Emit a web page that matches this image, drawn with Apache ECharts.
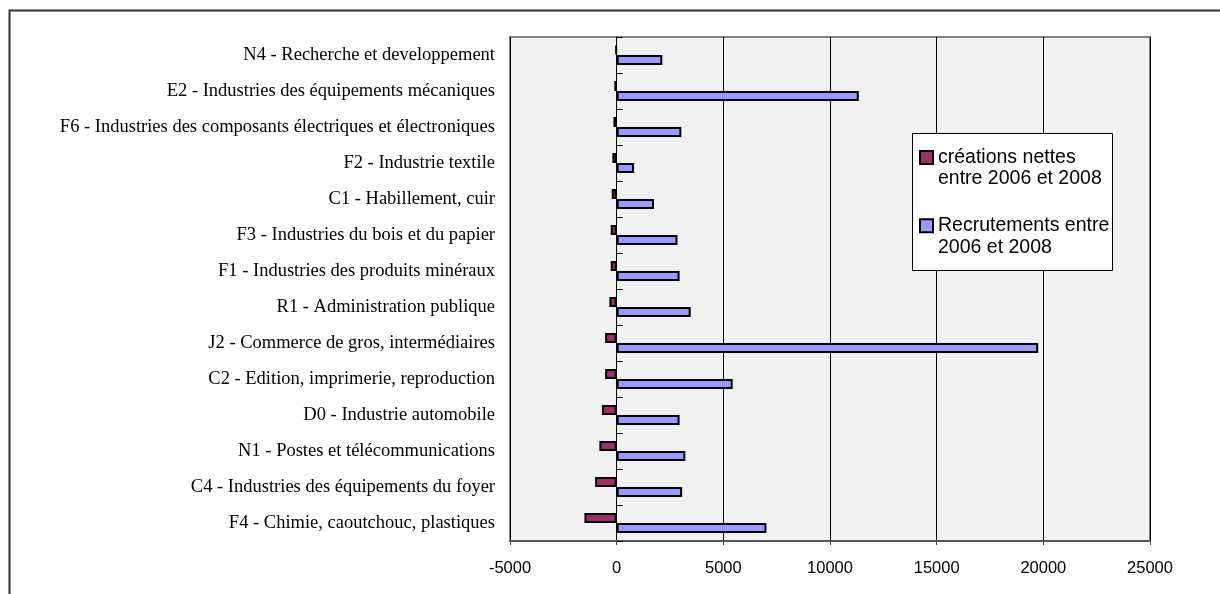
<!DOCTYPE html>
<html>
<head>
<meta charset="utf-8">
<script src="https://cdn.jsdelivr.net/npm/echarts@6/dist/echarts.min.js"></script>
<style>
html,body{margin:0;padding:0;background:#fff;}
#chart{width:1220px;height:594px;}
</style>
</head>
<body>
<div id="chart"></div>
<script>
// Categories, top to bottom
const categories = [
  "N4 - Recherche et developpement",
  "E2 - Industries des équipements mécaniques",
  "F6 - Industries des composants électriques et électroniques",
  "F2 - Industrie textile",
  "C1 - Habillement, cuir",
  "F3 - Industries du bois et du papier",
  "F1 - Industries des produits minéraux",
  "R1 - Administration publique",
  "J2 - Commerce de gros, intermédiaires",
  "C2 - Edition, imprimerie, reproduction",
  "D0 - Industrie automobile",
  "N1 - Postes et télécommunications",
  "C4 - Industries des équipements du foyer",
  "F4 - Chimie, caoutchouc, plastiques"
];
const seriesNames = [
  "créations nettes entre 2006 et 2008",
  "Recrutements entre 2006 et 2008"
];
const legendLabels = [
  "créations nettes\nentre 2006 et 2008",
  "Recrutements entre\n2006 et 2008"
];
const creationsNettes = [-50, -110, -150, -200, -230, -280, -280, -340, -540, -540, -690, -810, -1010, -1510];
const recrutements = [2140, 11350, 3030, 815, 1750, 2850, 2950, 3470, 19760, 5440, 2950, 3220, 3070, 7020];
const xTicks = [-5000, 0, 5000, 10000, 15000, 20000, 25000];

const chart = echarts.init(document.getElementById('chart'), null, {renderer: 'canvas'});
const legendMap = {};
seriesNames.forEach((n, i) => legendMap[n] = legendLabels[i]);

const option = {
  backgroundColor: '#ffffff',
  animation: false,
  grid: {
    left: 510, right: 70, top: 37, bottom: 53,
    show: true,
    backgroundColor: '#f2f2f2',
    borderColor: '#808080',
    borderWidth: 2
  },
  graphic: [
    {
      type: 'rect', z: 100, silent: true,
      shape: {x: 9.5, y: 10.5, width: 1400, height: 800},
      style: {fill: 'none', stroke: '#333', lineWidth: 2}
    },
    {
      type: 'rect', z: 3, silent: true,
      shape: {x: 912.5, y: 133.5, width: 200, height: 137},
      style: {fill: '#ffffff', stroke: '#000', lineWidth: 1}
    }
  ],
  legend: {
    orient: 'vertical',
    left: 919, top: 125,
    padding: 0,
    itemGap: 3.5,
    itemWidth: 13, itemHeight: 13,
    z: 10,
    icon: 'rect',
    data: seriesNames,
    formatter: n => '\n' + legendMap[n],
    textStyle: {
      fontFamily: 'Liberation Sans, Arial, sans-serif',
      fontSize: 19.5,
      lineHeight: 21.6,
      color: '#000'
    }
  },
  xAxis: {
    type: 'value',
    min: xTicks[0],
    max: xTicks[xTicks.length - 1],
    interval: xTicks[1] - xTicks[0],
    position: 'bottom',
    axisLine: {show: true, onZero: false, lineStyle: {color: '#555', width: 2}},
    axisTick: {show: true, length: 4, lineStyle: {color: '#444'}},
    splitLine: {show: true, lineStyle: {color: '#000', width: 1}},
    axisLabel: {
      margin: 19,
      fontFamily: 'Liberation Sans, Arial, sans-serif',
      fontSize: 16.5,
      color: '#000',
      formatter: v => String(v)
    }
  },
  yAxis: [
    {
      type: 'category',
      data: categories,
      inverse: true,
      position: 'left',
      axisLine: {show: false, onZero: false},
      axisTick: {show: false},
      splitLine: {show: false},
      axisLabel: {
        margin: 15,
        fontFamily: 'Liberation Serif, Times New Roman, serif',
        fontSize: 18.5,
        color: '#000'
      }
    },
    {
      type: 'category',
      data: categories,
      inverse: true,
      position: 'right',
      axisLine: {show: true, onZero: true, lineStyle: {color: '#000', width: 1}},
      axisTick: {show: true, inside: false, length: 6, lineStyle: {color: '#000'}},
      axisLabel: {show: false},
      splitLine: {show: false}
    }
  ],
  series: [
    {
      name: seriesNames[0],
      type: 'bar',
      yAxisIndex: 0,
      data: creationsNettes,
      barWidth: 10,
      barGap: '0%',
      itemStyle: {color: '#993366', borderColor: '#000', borderWidth: 2}
    },
    {
      name: seriesNames[1],
      type: 'bar',
      yAxisIndex: 0,
      data: recrutements,
      barWidth: 10,
      barGap: '0%',
      itemStyle: {color: '#9999ff', borderColor: '#000', borderWidth: 2}
    }
  ]
};
chart.setOption(option);
</script>
</body>
</html>
